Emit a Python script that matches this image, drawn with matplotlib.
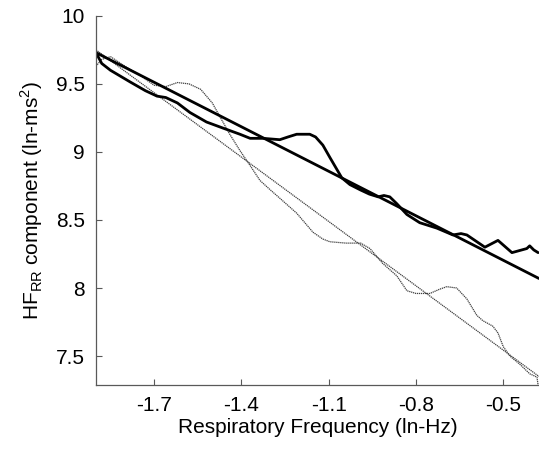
import numpy as np
import matplotlib.pyplot as plt

plt.rcParams['font.family'] = ['Liberation Sans', 'DejaVu Sans']
plt.rcParams['mathtext.fontset'] = 'custom'
plt.rcParams['mathtext.rm'] = 'Liberation Sans'

# thick regression line (endpoints)
fit_thick_x = [-1.9, -0.377]
fit_thick_y = [9.73, 8.07]

# thin regression line (endpoints)
fit_thin_x = [-1.9, -0.377]
fit_thin_y = [9.75, 7.35]

# thick measured curve
thick_x = [-1.9, -1.88, -1.85, -1.783, -1.73, -1.69, -1.66, -1.62, -1.577, -1.52,
           -1.463, -1.405, -1.37, -1.326, -1.268, -1.24, -1.21, -1.165, -1.145, -1.12,
           -1.096, -1.055, -1.027, -0.99, -0.96, -0.93, -0.91, -0.89, -0.866, -0.831,
           -0.787, -0.728, -0.673, -0.645, -0.625, -0.563, -0.518, -0.47, -0.419, -0.409,
           -0.395, -0.38]
thick_y = [9.73, 9.65, 9.60, 9.515, 9.45, 9.41, 9.40, 9.36, 9.29, 9.22,
           9.175, 9.13, 9.10, 9.10, 9.09, 9.11, 9.13, 9.13, 9.11, 9.05,
           8.96, 8.81, 8.76, 8.72, 8.69, 8.67, 8.68, 8.67, 8.62, 8.54,
           8.48, 8.44, 8.39, 8.40, 8.39, 8.30, 8.35, 8.26, 8.29, 8.31,
           8.28, 8.26]

# thin dotted measured curve
thin_x = [-1.9, -1.88, -1.85, -1.80, -1.75, -1.70, -1.66, -1.62, -1.58, -1.54,
          -1.50, -1.474, -1.44, -1.405, -1.37, -1.336, -1.30, -1.268, -1.21, -1.154,
          -1.12, -1.096, -1.04, -0.99, -0.958, -0.914, -0.866, -0.831, -0.80, -0.752,
          -0.72, -0.694, -0.66, -0.625, -0.591, -0.57, -0.536, -0.518, -0.50, -0.477,
          -0.443, -0.409, -0.384, -0.379]
thin_y = [9.63, 9.68, 9.70, 9.63, 9.565, 9.49, 9.48, 9.51, 9.50, 9.46,
          9.36, 9.26, 9.13, 9.01, 8.90, 8.79, 8.72, 8.66, 8.55, 8.41,
          8.36, 8.34, 8.33, 8.33, 8.29, 8.18, 8.09, 7.98, 7.96, 7.96,
          7.99, 8.01, 8.00, 7.92, 7.80, 7.76, 7.72, 7.67, 7.57, 7.50,
          7.44, 7.37, 7.345, 7.27]

xticks = [-1.7, -1.4, -1.1, -0.8, -0.5]
yticks = [7.5, 8, 8.5, 9, 9.5, 10]

fig = plt.figure(figsize=(5.39, 4.53), dpi=100)
ax = fig.add_axes([0.178, 0.150, 0.822, 0.815])

ax.plot(thin_x, thin_y, color='0.25', lw=0.9, ls=(0, (1, 0.6)))
ax.plot(fit_thin_x, fit_thin_y, color='0.25', lw=0.9, ls=(0, (1, 0.6)))
ax.plot(thick_x, thick_y, color='k', lw=2.0, solid_joinstyle='round', solid_capstyle='round')
ax.plot(fit_thick_x, fit_thick_y, color='k', lw=2.0, solid_capstyle='round')

ax.set_xlim(-1.9, -0.377)
ax.set_ylim(7.287, 10)
ax.set_xticks(xticks)
ax.set_xticklabels(['%g' % t for t in xticks])
ax.set_yticks(yticks)
ax.set_yticklabels(['%g' % t for t in yticks])
ax.tick_params(direction='in', length=4, width=0.8, color='0.35', labelsize=15, pad=8)

for s in ['top', 'right']:
    ax.spines[s].set_visible(False)
for s in ['left', 'bottom']:
    ax.spines[s].set_color('0.35')
    ax.spines[s].set_linewidth(0.9)

ax.set_xlabel('Respiratory Frequency (ln-Hz)', fontsize=15, labelpad=2)
ax.set_ylabel(r'HF$_\mathregular{RR}$ component (ln-ms$^\mathregular{2}$)', fontsize=15, labelpad=8)

fig.savefig('out.png', dpi=100)
